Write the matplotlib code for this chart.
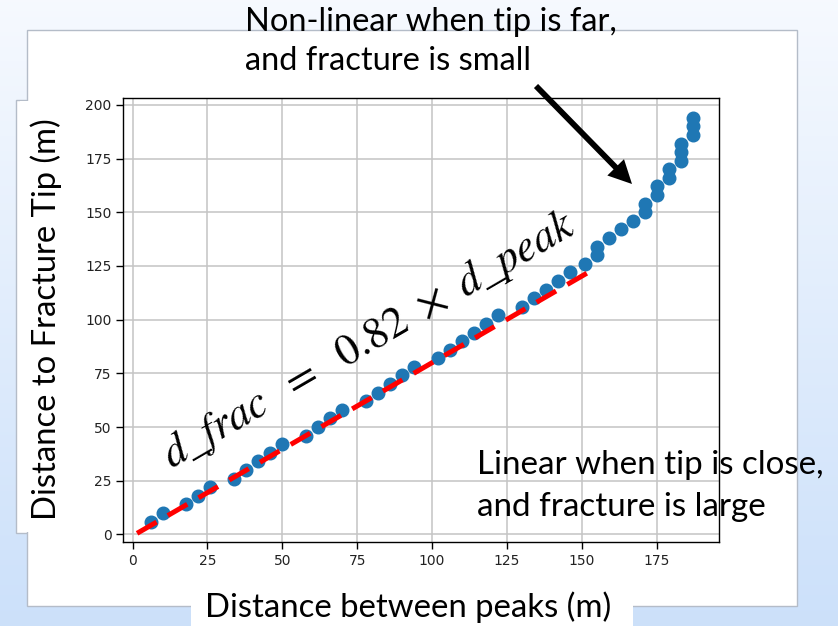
import matplotlib
matplotlib.use('Agg')
import matplotlib.pyplot as plt
import numpy as np
from matplotlib.patches import Rectangle

# values
peak_dist = [6, 10, 18, 22, 26, 34, 38, 42, 46, 50, 58, 62, 66, 70, 78, 82,
             86, 90, 94, 102, 106, 110, 114, 118, 122, 130, 134, 138, 142, 146,
             151, 155, 155, 159, 163, 167, 171, 171, 175, 175, 179, 179, 183,
             183, 183, 187, 187, 187]
tip_dist = [6, 10, 14, 18, 22, 26, 30, 34, 38, 42, 46, 50, 54, 58, 62, 66,
            70, 74, 78, 82, 86, 90, 94, 98, 102, 106, 110, 114, 118, 122,
            126, 130, 134, 138, 142, 146, 150, 154, 158, 162, 166, 170, 174,
            178, 182, 186, 190, 194]
fit_x = [1.5, 154]
fit_y = [0.5, 123.5]
x_ticks = [0, 25, 50, 75, 100, 125, 150, 175]
y_ticks = [0, 25, 50, 75, 100, 125, 150, 175, 200]

plt.rcParams['mathtext.fontset'] = 'stix'
W, H = 838, 626
fig = plt.figure(figsize=(W / 100, H / 100), dpi=100)

# slide background + white boxes (pixel coords, y down)
bg = fig.add_axes([0, 0, 1, 1])
bg.set_xlim(0, W)
bg.set_ylim(H, 0)
bg.axis('off')
top = np.array([0.965, 0.978, 0.998])
bot = np.array([0.80, 0.88, 0.98])
g = np.linspace(0, 1, 256)[:, None, None]
bg.imshow(top + (bot - top) * g, extent=[0, W, H, 0], aspect='auto', zorder=0)
edge = '#b4bcc8'
bg.add_patch(Rectangle((15.5, 100), 60, 433, facecolor='white', edgecolor=edge, lw=1, zorder=1))
bg.add_patch(Rectangle((27, 30), 770, 576, facecolor='white', edgecolor=edge, lw=1, zorder=2))
bg.add_patch(Rectangle((20, 101), 30, 431, facecolor='white', edgecolor='none', zorder=3))
bg.add_patch(Rectangle((190.5, 590), 442, 40, facecolor='white', edgecolor='none', zorder=3))

# the chart
ax = fig.add_axes([123.3 / W, 1 - 541.7 / H, (719.3 - 123.3) / W, (541.7 - 98) / H])
ax.scatter(peak_dist, tip_dist, s=82, color='#1f77b4', zorder=3)
ax.plot(fit_x, fit_y, color='red', lw=3.6, ls=(0, (4.5, 2.6)), zorder=4)
ax.set_xlim(-3.1, 195.9)
ax.set_ylim(-3.4, 203.2)
ax.set_xticks(x_ticks)
ax.set_yticks(y_ticks)
ax.tick_params(labelsize=10, labelcolor='#222222', width=1, length=5)
ax.grid(color='#c4c4c4', lw=1.1)
ax.set_axisbelow(True)
for sp in ax.spines.values():
    sp.set_linewidth(1.0)
    sp.set_color('black')

# slide texts on top
ov = fig.add_axes([0, 0, 1, 1], zorder=5)
ov.set_xlim(0, W)
ov.set_ylim(H, 0)
ov.axis('off')
ov.patch.set_visible(False)

font = ['Lato', 'DejaVu Sans']
t1 = ov.text(245, 31, 'Non-linear when tip is far,', family=font, fontsize=24, va='baseline')
t2 = ov.text(245, 70, 'and fracture is small', family=font, fontsize=24, va='baseline')
t3 = ov.text(477, 474, 'Linear when tip is close,', family=font, fontsize=24, va='baseline')
t4 = ov.text(477, 516, 'and fracture is large', family=font, fontsize=24, va='baseline')
xl = ov.text(408, 617, 'Distance between peaks (m)', family=font, fontsize=24, ha='center', va='baseline')
yl = ov.text(46, 319, 'Distance to Fracture Tip (m)', family=font, fontsize=24, ha='center', va='center')
eq = ov.text(375, 350, r'$d\_frac\ \ =\ \ 0.82\ \times\ d\_peak$', fontsize=26,
             ha='center', va='baseline', rotation_mode='anchor')

renderer = fig.canvas.get_renderer()


def fit(txt, target, others=()):
    w = txt.get_window_extent(renderer).width
    fs = txt.get_fontsize() * target / w
    txt.set_fontsize(fs)
    for o in others:
        o.set_fontsize(fs)


fit(t1, 372, [t2])
fit(t3, 346, [t4])
fit(xl, 407)
fit(yl, 402)
fit(eq, 472)
yl.set_rotation(90)
eq.set_rotation(30.2)

ov.annotate('', xy=(632, 184), xytext=(536, 86),
            arrowprops=dict(arrowstyle='simple,head_length=0.6,head_width=0.6,tail_width=0.15',
                            mutation_scale=28, color='black', lw=0, shrinkA=0, shrinkB=0))

fig.savefig('out.png', dpi=100)
